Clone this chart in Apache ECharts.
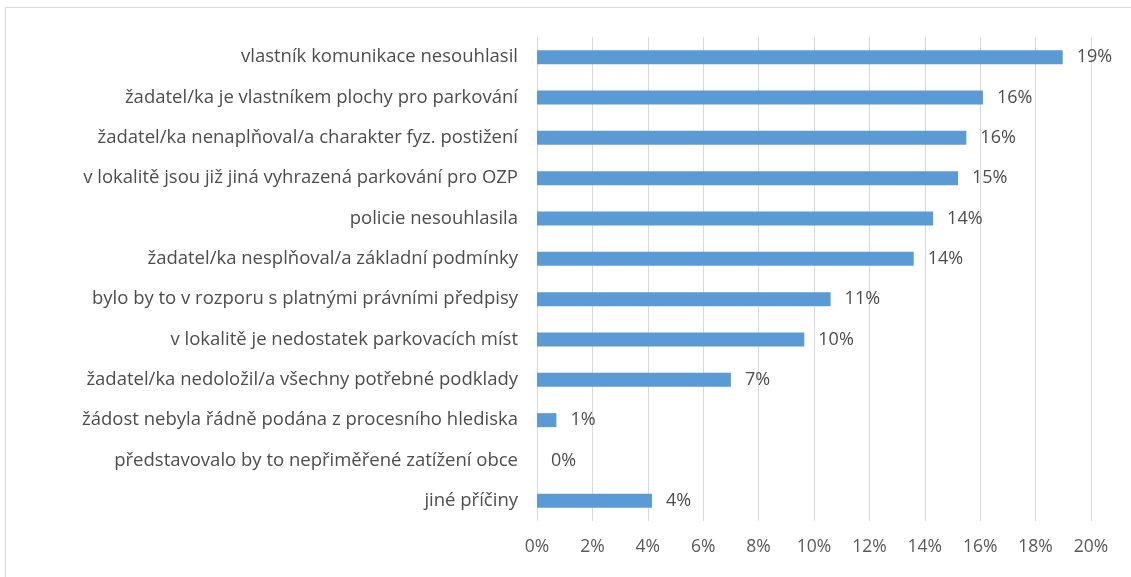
<!DOCTYPE html>
<html>
<head>
<meta charset="utf-8">
<style>
html,body{margin:0;padding:0;background:#fff;}
#chart{width:1131px;height:577px;}
</style>
<script src="https://cdn.jsdelivr.net/npm/echarts@6/dist/echarts.min.js"></script>
</head>
<body>
<div id="chart"></div>
<script>
const categories = [
  "vlastník komunikace nesouhlasil",
  "žadatel/ka je vlastníkem plochy pro parkování",
  "žadatel/ka nenaplňoval/a charakter fyz. postižení",
  "v lokalitě jsou již jiná vyhrazená parkování pro OZP",
  "policie nesouhlasila",
  "žadatel/ka nesplňoval/a základní podmínky",
  "bylo by to v rozporu s platnými právními předpisy",
  "v lokalitě je nedostatek parkovacích míst",
  "žadatel/ka nedoložil/a všechny potřebné podklady",
  "žádost nebyla řádně podána z procesního hlediska",
  "představovalo by to nepřiměřené zatížení obce",
  "jiné příčiny"
];
const values = [18.98, 16.1, 15.5, 15.2, 14.3, 13.6, 10.6, 9.65, 7.0, 0.7, 0, 4.15];
const xTicks = [0, 2, 4, 6, 8, 10, 12, 14, 16, 18, 20];

const chart = echarts.init(document.getElementById('chart'));
const fontFamily = "'Open Sans', sans-serif";
chart.setOption({
  animation: false,
  backgroundColor: '#ffffff',
  graphic: [{
    type: 'rect',
    shape: {x: 5.5, y: 7.5, width: 1200, height: 600},
    style: {fill: 'none', stroke: '#d9d9d9', lineWidth: 1},
    silent: true
  }],
  grid: {left: 537, right: 40, top: 37, bottom: 56, containLabel: false},
  xAxis: {
    type: 'value',
    min: xTicks[0],
    max: xTicks[xTicks.length - 1],
    interval: 2,
    axisLine: {show: false},
    axisTick: {show: false},
    splitLine: {show: true, lineStyle: {color: '#d9d9d9', width: 1}},
    axisLabel: {
      formatter: v => v + '%',
      color: '#595959',
      fontSize: 17.5,
      fontFamily: fontFamily,
      margin: 17
    }
  },
  yAxis: {
    type: 'category',
    data: categories,
    inverse: true,
    axisLine: {show: false},
    axisTick: {show: false},
    axisLabel: {
      color: '#4d4d4d',
      fontSize: 18.5,
      fontFamily: fontFamily,
      margin: 19
    }
  },
  series: [{
    type: 'bar',
    data: values,
    barWidth: 14,
    itemStyle: {color: '#5b9bd5'},
    label: {
      show: true,
      position: 'right',
      distance: 14,
      formatter: p => Math.round(p.value) + '%',
      color: '#4d4d4d',
      fontSize: 18,
      fontFamily: fontFamily
    }
  }]
});
</script>
</body>
</html>
